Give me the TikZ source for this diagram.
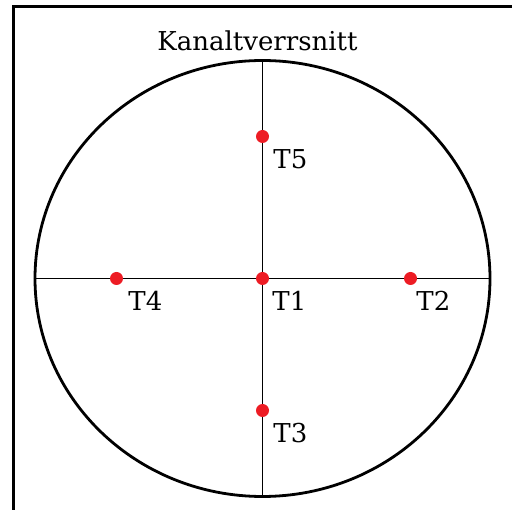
\documentclass[tikz,border=0pt]{standalone}
\usepackage{xcolor}
\usepackage{fontspec}
\setmainfont{DejaVu Serif}
\usepackage{tikz}
\usetikzlibrary{positioning,shapes.geometric}
\definecolor{pointred}{RGB}{237, 28, 36}

\begin{document}
\begin{tikzpicture}[
    x=1pt, y=-1pt,
    channel/.style={
        ellipse, draw=black, line width=2.8pt,
        minimum width=455pt, minimum height=436pt, inner sep=0pt
    },
    point/.style={circle, fill=pointred, inner sep=0pt, minimum size=13pt, on grid},
    tag/.style={inner sep=0pt, font=\fontsize{26}{30}\selectfont},
    axis/.style={line width=1.8pt, black}
]
    \useasboundingbox (0,0) rectangle (512,510);
    \draw[line width=3pt] (13,510) |- (512,7);

    \node[channel] (kanal) at (262.5,278.5) {};
    \node[tag, above=8pt of kanal, xshift=-5pt] (title) {Kanaltverrsnitt};

    \draw[axis] (kanal.north) -- (kanal.south);
    \draw[axis] (kanal.west) -- (kanal.east);

    \node[point] (t1) at (kanal.center) {};
    \node[point, right=148pt of t1] (t2) {};
    \node[point, below=132pt of t1] (t3) {};
    \node[point, left=146pt of t1] (t4) {};
    \node[point, above=142pt of t1] (t5) {};

    \node[tag, below right=8pt and 5pt of t1] (l1) {T1};
    \node[tag, below right=8pt and 1pt of t2] (l2) {T2};
    \node[tag, below right=8pt and 6pt of t3] (l3) {T3};
    \node[tag, below right=8pt and 7pt of t4] (l4) {T4};
    \node[tag, below right=8pt and 6pt of t5] (l5) {T5};
\end{tikzpicture}
\end{document}
